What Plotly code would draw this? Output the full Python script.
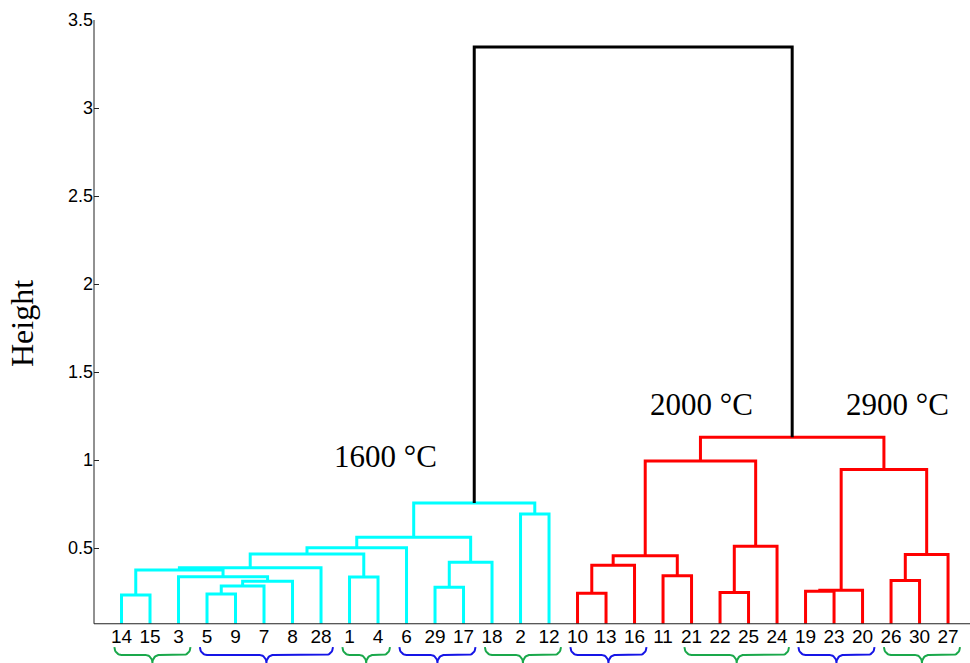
import math
import plotly.graph_objects as go

# ---------------- data ----------------
leaf_order = [14, 15, 3, 5, 9, 7, 8, 28, 1, 4, 6, 29, 17, 18, 2, 12,
              10, 13, 16, 11, 21, 22, 25, 24, 19, 23, 20, 26, 30, 27]

# linkage rows: ids 1-30 are samples, row k creates cluster 31+k
link_left = [14, 5, 32, 33, 3, 31, 36, 1, 37, 39, 29, 41, 40, 2, 43,
             10, 46, 11, 47, 22, 50, 49, 19, 53, 26, 55, 54, 52, 45]
link_right = [15, 9, 7, 8, 34, 35, 28, 4, 38, 6, 17, 18, 42, 12, 44,
              13, 16, 21, 48, 25, 24, 51, 23, 20, 30, 27, 56, 57, 58]
link_height = [0.233, 0.239, 0.284, 0.312, 0.337, 0.375, 0.388, 0.335, 0.466,
               0.502, 0.277, 0.419, 0.562, 0.693, 0.756, 0.243, 0.402, 0.343,
               0.456, 0.248, 0.510, 0.994, 0.254, 0.261, 0.316, 0.464, 0.947,
               1.129, 3.347]

# brace groups (first and last sample label of each group)
brace_first = [14, 5, 1, 6, 18, 10, 21, 19, 26]
brace_last = [3, 28, 4, 17, 12, 16, 24, 20, 27]
brace_kind = ["g", "b", "g", "b", "g", "b", "g", "b", "g"]

group_labels = ["1600 °C", "2000 °C", "2900 °C"]
group_label_x = [10.25, 21.35, 28.23]
group_label_y = [1.02, 1.318, 1.318]

y_ticks = [0.5, 1, 1.5, 2, 2.5, 3, 3.5]
y_tick_text = ["0.5", "1", "1.5", "2", "2.5", "3", "3.5"]

# ---------------- styles ----------------
Y_BASE = 0.07
X_RANGE = [0.035, 30.77]
Y_RANGE = [-0.153, 3.5]
COL_LEFT = "#00FFFF"
COL_RIGHT = "#FF0000"
COL_TOP = "#000000"
BRACE_COL = {"g": "#1AA84B", "b": "#1515E6"}

n = len(leaf_order)
pos = {lab: i + 1 for i, lab in enumerate(leaf_order)}

# compute x / height of every node
node_x = dict(pos)
node_h = {lab: Y_BASE for lab in leaf_order}
for k, (a, b, h) in enumerate(zip(link_left, link_right, link_height)):
    cid = n + 1 + k
    node_x[cid] = (node_x[a] + node_x[b]) / 2
    node_h[cid] = h

root = n + len(link_left)
children = {n + 1 + k: (a, b) for k, (a, b) in enumerate(zip(link_left, link_right))}

# colour assignment: root black, its subtrees cyan/red
node_col = {root: COL_TOP}
ra, rb = children[root]
stack = [(ra, COL_LEFT), (rb, COL_RIGHT)]
while stack:
    nd, c = stack.pop()
    node_col[nd] = c
    if nd in children:
        for ch in children[nd]:
            stack.append((ch, c))

segs = {COL_LEFT: ([], []), COL_RIGHT: ([], []), COL_TOP: ([], [])}
for cid, (a, b) in children.items():
    xs, ys = segs[node_col[cid]]
    xs += [node_x[a], node_x[a], node_x[b], node_x[b], None]
    ys += [node_h[a], node_h[cid], node_h[cid], node_h[b], None]

fig = go.Figure()
for col in [COL_LEFT, COL_RIGHT, COL_TOP]:
    xs, ys = segs[col]
    fig.add_trace(go.Scatter(x=xs, y=ys, mode="lines",
                             line=dict(color=col, width=3),
                             hoverinfo="skip", showlegend=False))

# leaf labels
fig.add_trace(go.Scatter(
    x=[pos[l] for l in leaf_order], y=[-0.012] * n, mode="text",
    text=[str(l) for l in leaf_order], textposition="middle center",
    textfont=dict(family="Liberation Sans, Arial", size=19, color="black"),
    hoverinfo="skip", showlegend=False))

# braces
px_x = 876 / (X_RANGE[1] - X_RANGE[0])
rx = 7 / px_x
y_top = -0.063
y_mid = -0.107
ry = y_top - y_mid
d = 0.045


def arc(cx, cy, ax, ay, t0, t1, m=10):
    out = []
    for i in range(m + 1):
        t = math.radians(t0 + (t1 - t0) * i / m)
        out.append((cx + ax * math.cos(t), cy + ay * math.sin(t)))
    return out


for f, l, kind in zip(brace_first, brace_last, brace_kind):
    xa = pos[f] - 0.25
    xb = pos[l] + 0.42
    xm = (xa + xb) / 2
    pts = []
    pts += arc(xa + rx, y_top, rx, ry, 180, 270)
    pts += arc(xm - rx, y_mid - d, rx, d, 90, 0)
    pts += arc(xm + rx, y_mid - d, rx, d, 180, 90)
    pts += arc(xb - rx, y_top, rx, ry, 270, 360)
    fig.add_trace(go.Scatter(x=[p[0] for p in pts], y=[p[1] for p in pts],
                             mode="lines", line=dict(color=BRACE_COL[kind], width=2),
                             hoverinfo="skip", showlegend=False, cliponaxis=False))

# axes lines
fig.add_shape(type="line", xref="paper", yref="y", x0=0, x1=0,
              y0=Y_BASE, y1=3.5, line=dict(color="#222222", width=1))
fig.add_shape(type="line", xref="paper", yref="y", x0=0, x1=1,
              y0=Y_BASE, y1=Y_BASE, line=dict(color="#222222", width=1))

for t, x, y in zip(group_labels, group_label_x, group_label_y):
    fig.add_annotation(x=x, y=y, xref="x", yref="y", text=t, showarrow=False,
                       font=dict(family="Liberation Serif, Times New Roman",
                                 size=31, color="black"),
                       xanchor="center", yanchor="middle")

fig.add_annotation(x=(22 - 94) / 876, y=(663 - 324) / 643, xref="paper", yref="paper",
                   text="Height", textangle=-90, showarrow=False,
                   font=dict(family="Liberation Serif, Times New Roman",
                             size=32, color="black"),
                   xanchor="center", yanchor="middle")

fig.update_layout(
    width=970, height=663,
    margin=dict(l=94, r=0, t=20, b=0),
    plot_bgcolor="white", paper_bgcolor="white",
    hovermode=False,
    xaxis=dict(range=X_RANGE, showgrid=False, zeroline=False, showline=False,
               showticklabels=False, ticks=""),
    yaxis=dict(range=Y_RANGE, showgrid=False, zeroline=False, showline=False,
               tickvals=y_ticks, ticktext=y_tick_text, ticks="inside",
               ticklen=5, tickcolor="#222222", tickwidth=1,
               tickfont=dict(family="Liberation Sans, Arial", size=18, color="black")),
)

fig.write_html("out.html",
               config={"displayModeBar": False},
               post_script="document.body.style.margin='0';document.body.style.padding='0';")
